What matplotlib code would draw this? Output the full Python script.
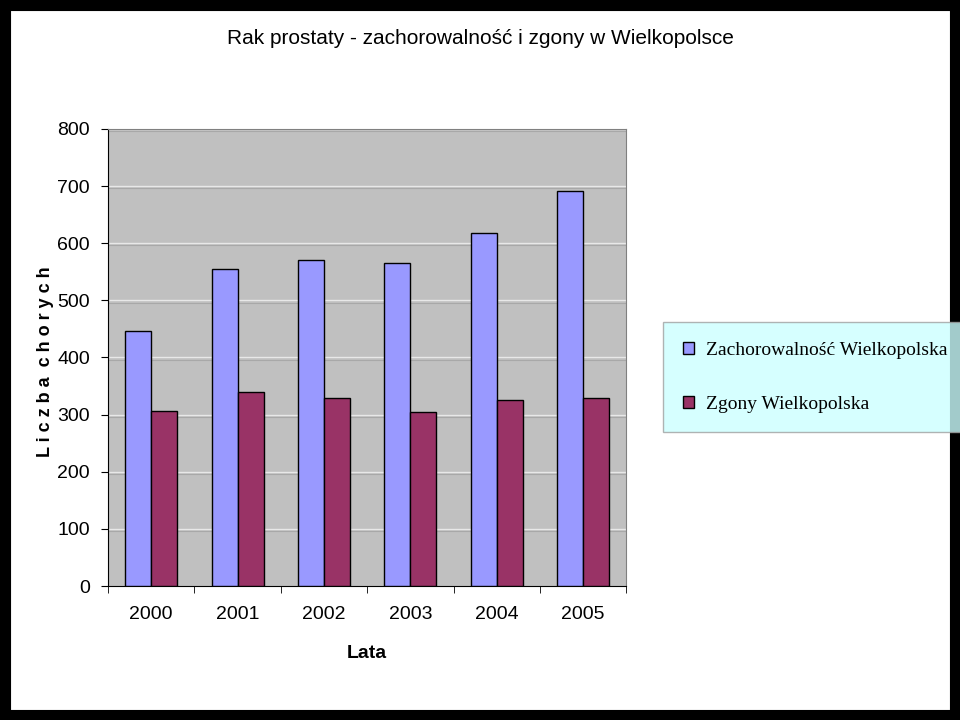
import matplotlib
matplotlib.use("Agg")
import matplotlib.pyplot as plt
import numpy as np
from matplotlib.patches import Rectangle

years = ["2000", "2001", "2002", "2003", "2004", "2005"]
incidence = [447, 555, 571, 566, 617, 692]
deaths = [306, 340, 329, 305, 326, 329]
yticks = [0, 100, 200, 300, 400, 500, 600, 700, 800]

plt.rcParams["font.family"] = "Liberation Sans"
fig = plt.figure(figsize=(9.6, 7.2), dpi=100)
fig.patches.append(Rectangle((0.005, 0.007), 0.99, 0.986, transform=fig.transFigure,
                             fill=False, edgecolor="black", linewidth=8))

ax = fig.add_axes([0.1125, 0.186, 0.54, 0.635])
ax.set_facecolor("#c0c0c0")
x = np.arange(len(years))
w = 0.3
ax.bar(x - w / 2, incidence, w, color="#9999ff", edgecolor="black", linewidth=1,
       label="Zachorowalność Wielkopolska", zorder=3)
ax.bar(x + w / 2, deaths, w, color="#993366", edgecolor="black", linewidth=1,
       label="Zgony Wielkopolska", zorder=3)
ax.set_xlim(-0.5, len(years) - 0.5)
ax.set_ylim(0, 800)
ax.set_yticks(yticks)
ax.set_yticklabels([str(v) for v in yticks], fontsize=14)
ax.set_xticks(x)
ax.set_xticklabels(years, fontsize=14)
ax.set_xticks(np.arange(len(years) + 1) - 0.5, minor=True)
ax.tick_params(axis="x", which="major", length=0, pad=14)
ax.tick_params(axis="x", which="minor", length=5)
ax.tick_params(axis="y", length=5, pad=8)
for v in yticks[1:]:
    ax.axhline(v, color="#e8e8e8", linewidth=1, zorder=1)
    ax.axhline(v - 4, color="#a8a8a8", linewidth=0.8, zorder=1)
for s in ["top", "right"]:
    ax.spines[s].set_color("#808080")
ax.set_xlabel("Lata", fontsize=14, fontweight="bold", labelpad=16)
ax.set_ylabel("L i c z b a  c h o r y c h", fontsize=13, fontweight="bold",
              labelpad=12)
ax.yaxis.set_label_coords(-0.105, 0.49)

fig.text(0.5, 0.939, "Rak prostaty - zachorowalność i zgony w Wielkopolsce",
         ha="center", fontsize=15)

leg = fig.legend(loc="center left", bbox_to_anchor=(0.691, 0.476), frameon=True,
                 fancybox=False, prop={"family": "Liberation Serif", "size": 14},
                 handlelength=0.6, handleheight=0.6, labelspacing=1.9,
                 borderpad=1.0, borderaxespad=0, handletextpad=0.6)
leg.get_frame().set_facecolor("#ccffff")
leg.get_frame().set_edgecolor("#a0a0a0")

fig.savefig("out.png", dpi=100)
